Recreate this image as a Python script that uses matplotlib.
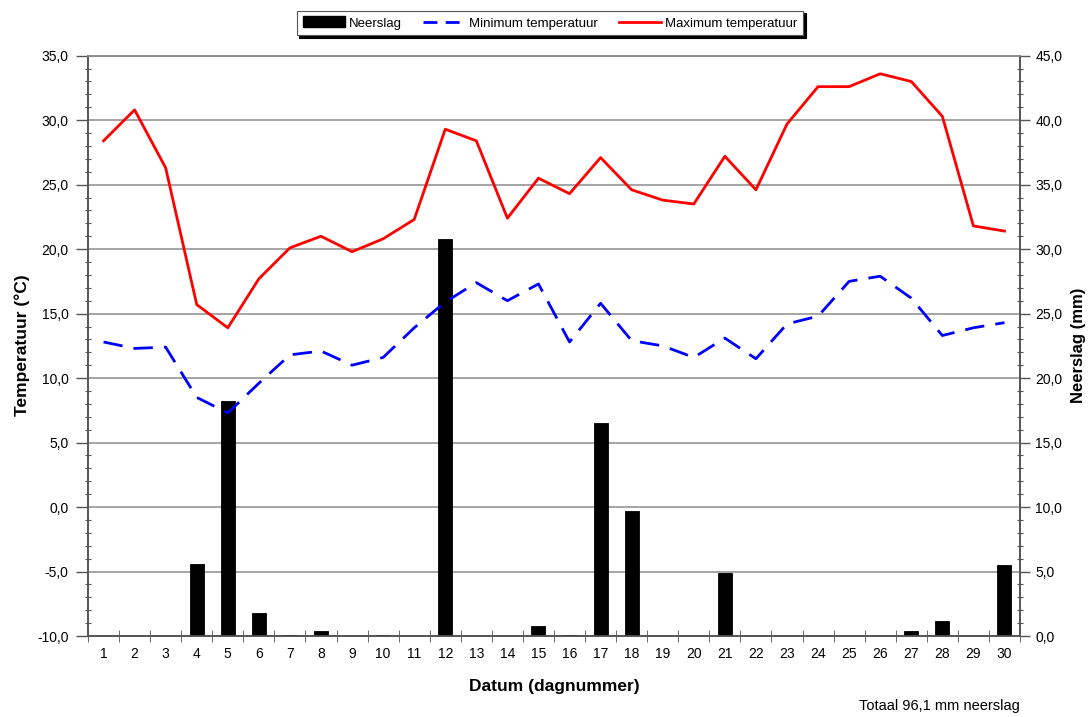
import matplotlib
matplotlib.use("Agg")
import matplotlib.pyplot as plt
from matplotlib.ticker import FuncFormatter, MultipleLocator, FixedLocator
from matplotlib.patches import Patch
from matplotlib.lines import Line2D

plt.rcParams['font.family'] = ['Liberation Sans', 'DejaVu Sans']

days = list(range(1, 31))
max_temp = [28.4, 30.8, 26.3, 15.7, 13.9, 17.7, 20.1, 21.0, 19.8, 20.8,
            22.3, 29.3, 28.4, 22.4, 25.5, 24.3, 27.1, 24.6, 23.8, 23.5,
            27.2, 24.6, 29.7, 32.6, 32.6, 33.6, 33.0, 30.3, 21.8, 21.4]
min_temp = [12.8, 12.3, 12.4, 8.5, 7.3, 9.6, 11.8, 12.1, 11.0, 11.6,
            13.9, 15.9, 17.4, 16.0, 17.3, 12.8, 15.8, 12.9, 12.5, 11.6,
            13.1, 11.5, 14.2, 14.8, 17.5, 17.9, 16.2, 13.3, 13.9, 14.3]
neerslag = [0.0, 0.0, 0.0, 5.6, 18.2, 1.8, 0.1, 0.4, 0.0, 0.1,
            0.0, 30.8, 0.0, 0.0, 0.8, 0.1, 16.5, 9.7, 0.0, 0.0,
            4.9, 0.0, 0.0, 0.0, 0.0, 0.0, 0.4, 1.2, 0.0, 5.5]
total_text = "Totaal 96,1 mm neerslag"

fig = plt.figure(figsize=(10.89, 7.17), dpi=100)
left, right, top, bottom = 88/1089, 1020/1089, 1-55.7/717, 1-636/717
ax2 = fig.add_axes([left, bottom, right-left, top-bottom])
ax = ax2.twinx()
ax.yaxis.tick_left()
ax.yaxis.set_label_position('left')
ax2.yaxis.tick_right()
ax2.yaxis.set_label_position('right')
ax.set_zorder(ax2.get_zorder() + 1)
ax.patch.set_visible(False)

comma = FuncFormatter(lambda v, p: f"{v:.1f}".replace('.', ','))
spine_col = '#555555'
grid_col = '#8c8c8c'

# precipitation bars
ax2.bar(days, neerslag, width=0.45, color='black', edgecolor='black', linewidth=0.6, zorder=3)
ax2.set_ylim(0, 45)
ax2.yaxis.set_major_locator(MultipleLocator(5))
ax2.yaxis.set_minor_locator(MultipleLocator(1))
ax2.yaxis.set_major_formatter(comma)
ax2.grid(axis='y', which='major', color=grid_col, linewidth=1.1, zorder=0)
ax2.set_axisbelow(True)

# temperature lines
ax.plot(days, min_temp, color='#0000ff', linewidth=2.0, dashes=(7, 4), zorder=4)
ax.plot(days, max_temp, color='#ff0000', linewidth=2.0, zorder=5)
ax.set_ylim(-10, 35)
ax.yaxis.set_major_locator(MultipleLocator(5))
ax.yaxis.set_minor_locator(MultipleLocator(1))
ax.yaxis.set_major_formatter(comma)

ax2.set_xlim(0.5, 30.5)
ax2.xaxis.set_major_locator(FixedLocator(days))
ax2.xaxis.set_minor_locator(FixedLocator([d + 0.5 for d in range(0, 31)]))
ax2.set_xticklabels([str(d) for d in days])
ax2.tick_params(axis='x', which='major', length=0, labelsize=10, pad=8)
ax2.tick_params(axis='x', which='minor', length=8, direction='inout', color=spine_col)

for a in (ax, ax2):
    a.tick_params(axis='y', which='minor', length=4, direction='inout', color=spine_col, width=0.8)
    for s in ('left', 'right', 'bottom'):
        a.spines[s].set_color(spine_col)
        a.spines[s].set_linewidth(1.2)
    a.spines['top'].set_color(grid_col)
    a.spines['top'].set_linewidth(1.1)
ax.tick_params(axis='y', which='major', length=9, direction='out', labelsize=10,
               color=spine_col, width=1, pad=5)
ax2.tick_params(axis='y', which='major', length=7, direction='out', labelsize=10,
                color=spine_col, width=1, pad=4)

# axis titles placed at reference positions
fig.text(22/1089, 1-345/717, "Temperatuur (°C)", rotation=90, ha='center', va='center',
         fontsize=12.5, fontweight='bold')
fig.text(1078/1089, 1-345/717, "Neerslag (mm)", rotation=90, ha='center', va='center',
         fontsize=12, fontweight='bold')
fig.text(554/1089, 1-686/717, "Datum (dagnummer)", ha='center', va='center',
         fontsize=12.5, fontweight='bold')

handles = [Patch(facecolor='black', edgecolor='black'),
           Line2D([], [], color='#0000ff', linewidth=2.0, dashes=(5, 3)),
           Line2D([], [], color='#ff0000', linewidth=2.0)]
labels = ["Neerslag", "Minimum temperatuur", "Maximum temperatuur"]
leg = fig.legend(handles, labels, loc='center', bbox_to_anchor=(550/1089, 1-23/717),
                 ncol=3, fontsize=9.5, frameon=True, fancybox=False,
                 shadow={'color': 'black', 'alpha': 1},
                 edgecolor='#555555', handlelength=3.2, handleheight=0.9, columnspacing=1.6,
                 handletextpad=0.3, borderpad=0.45, borderaxespad=0)
leg.get_frame().set_linewidth(0.8)

fig.text(1020/1089, 1-706/717, total_text, ha='right', va='center', fontsize=10.5)

fig.savefig("out.png", dpi=100)
